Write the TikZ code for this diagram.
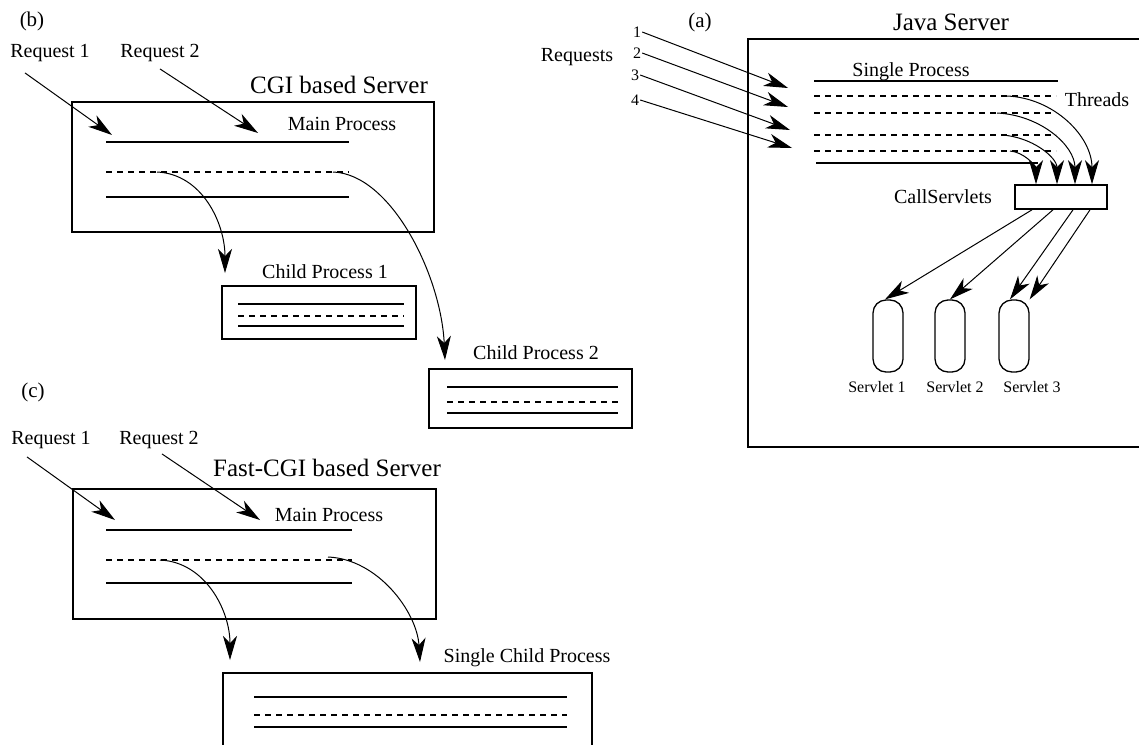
\documentclass[tikz,border=0pt]{standalone}
\usepackage{fontspec}
\setmainfont{Liberation Serif}
\usetikzlibrary{arrows.meta,positioning}

\tikzset{
    box/.style={draw, line width=1.6pt, inner sep=0pt},
    servlet/.style={draw, line width=1.3pt, rounded corners=13pt, minimum width=30pt, minimum height=72pt},
    lettertext/.style={font=\fontsize{21}{24}\selectfont, inner sep=1pt},
    smalltext/.style={font=\fontsize{20}{22}\selectfont, inner sep=1pt},
    titletext/.style={font=\fontsize{25}{28}\selectfont, inner sep=1pt},
    servtext/.style={font=\fontsize{16}{18}\selectfont, inner sep=1pt},
    pline/.style={line width=1.5pt},
    dline/.style={line width=1.5pt, dash pattern=on 6pt off 5pt},
    conn/.style={-{Stealth[length=24pt,width=14pt,inset=7pt]}, line width=1pt},
}

\begin{document}
\begin{tikzpicture}[x=1pt, y=-1pt]
    \useasboundingbox (0,0) rectangle (1139,744);
    \clip (0,0) rectangle (1139,744);

    \node[lettertext] (labb) at (32,21) {(b)};
    \node[smalltext] (rqb1) at (50,53) {Request 1};
    \node[smalltext] (rqb2) at (160,53) {Request 2};
    \node[titletext] (cgititle) at (339,85) {CGI based Server};
    \node[box, minimum width=362pt, minimum height=130pt] (cgi) at (253,167) {};
    \node[smalltext] (cgimain) at (342,124) {Main Process};
    \draw[pline] (106,142) -- (349,142);
    \draw[dline] (106,172) -- (349,172);
    \draw[pline] (106,197) -- (349,197);
    \node[smalltext] (child1lbl) at (325,272) {Child Process 1};
    \node[box, minimum width=194pt, minimum height=53pt] (child1) at (319,312.5) {};
    \draw[pline] (238,304) -- (404,304);
    \draw[dline] (238,316) -- (404,316);
    \draw[pline] (238,326) -- (404,326);
    \node[smalltext] (child2lbl) at (536,353) {Child Process 2};
    \node[box, minimum width=203pt, minimum height=59pt] (child2) at (530.5,398.5) {};
    \draw[pline] (447,387) -- (618,387);
    \draw[dline] (447,402) -- (618,402);
    \draw[pline] (447,413) -- (618,413);
    \coordinate (cgitip1) at (112,135);
    \coordinate (cgitip2) at (258,133);
    \coordinate (cgifork1) at (157,172);
    \coordinate (cgifork2) at (333,172);
    \coordinate (cgidown1) at (225,273);
    \coordinate (cgidown2) at (445,360);
    \draw[conn] ([xshift=-25pt,yshift=-10pt]rqb1.south) -- (cgitip1);
    \draw[conn] ([yshift=-6pt]rqb2.south) -- (cgitip2);
    \draw[conn] (cgifork1) .. controls +(45,2) and +(0,-50) .. (cgidown1);
    \draw[conn] (cgifork2) .. controls +(58,2) and +(-4,-85) .. (cgidown2);

    \node[lettertext] (labc) at (33,392) {(c)};
    \node[smalltext] (rqc1) at (51,440) {Request 1};
    \node[smalltext] (rqc2) at (159,440) {Request 2};
    \node[titletext] (fasttitle) at (327,468) {Fast-CGI based Server};
    \node[box, minimum width=363pt, minimum height=130pt] (fast) at (254.5,554) {};
    \node[smalltext] (fastmain) at (329,515) {Main Process};
    \draw[pline] (106,530) -- (352,530);
    \draw[dline] (106,560) -- (352,560);
    \draw[pline] (106,583) -- (352,583);
    \node[smalltext] (singlelbl) at (527,658) {Single Child Process};
    \node[box, minimum width=369pt, minimum height=117pt] (singlechild) at (407.5,731.5) {};
    \draw[pline] (254,697) -- (567,697);
    \draw[dline] (254,715) -- (567,715);
    \draw[pline] (254,727) -- (567,727);
    \coordinate (fasttip1) at (115,520);
    \coordinate (fasttip2) at (260,520);
    \coordinate (fastfork1) at (160,560);
    \coordinate (fastfork2) at (328,557);
    \coordinate (fastdown1) at (230,660);
    \coordinate (fastdown2) at (420,662);
    \draw[conn] ([xshift=-24pt,yshift=-7pt]rqc1.south) -- (fasttip1);
    \draw[conn] ([xshift=3pt,yshift=-4pt]rqc2.south) -- (fasttip2);
    \draw[conn] (fastfork1) .. controls +(45,2) and +(0,-50) .. (fastdown1);
    \draw[conn] (fastfork2) .. controls +(50,2) and +(-3,-50) .. (fastdown2);

    \node[lettertext] (laba) at (700,22) {(a)};
    \node[titletext] (javatitle) at (951,22) {Java Server};
    \node[box, minimum width=402pt, minimum height=408pt] (java) at (949,243) {};
    \node[smalltext] (reqs) at (577,57) {Requests};
    \node[servtext] (n1) at (637,32) {1};
    \node[servtext] (n2) at (637,53) {2};
    \node[servtext] (n3) at (635,75) {3};
    \node[servtext] (n4) at (635,100) {4};
    \coordinate (rt1) at (788,88);
    \coordinate (rt2) at (788,107);
    \coordinate (rt3) at (790,130);
    \coordinate (rt4) at (792,148);
    \draw[conn] (n1.east) -- (rt1);
    \draw[conn] (n2.east) -- (rt2);
    \draw[conn] (n3.east) -- (rt3);
    \draw[conn] (n4.east) -- (rt4);
    \node[smalltext] (singleproc) at (911,72) {Single Process};
    \draw[pline] (814,81) -- (1058,81);
    \draw[dline] (814,96) -- (1056,96);
    \draw[dline] (814,113) -- (1056,113);
    \draw[dline] (814,135) -- (1056,135);
    \draw[dline] (814,151) -- (1056,151);
    \draw[pline] (816,163) -- (1038,163);
    \node[smalltext] (threads) at (1097,100) {Threads};
    \node[smalltext] (calllbl) at (943,197) {CallServlets};
    \node[box, minimum width=92pt, minimum height=24pt] (call) at (1061,197) {};
    \coordinate (th1) at (1007,96);
    \coordinate (th2) at (997,113);
    \coordinate (th3) at (1002,135);
    \coordinate (th4) at (1010,151);
    \draw[conn] (th1) .. controls +(47,2) and +(0,-48) .. ([xshift=31pt]call.north);
    \draw[conn] (th2) .. controls +(43,2) and +(0,-39) .. ([xshift=14pt]call.north);
    \draw[conn] (th3) .. controls +(30,2) and +(0,-27) .. ([xshift=-4pt]call.north);
    \draw[conn] (th4) .. controls +(14,1) and +(0,-18) .. ([xshift=-25pt]call.north);
    \node[servlet] (sv1) at (888,336) {};
    \node[servlet] (sv2) at (950,336) {};
    \node[servlet] (sv3) at (1014,336) {};
    \node[servtext] (sv1lbl) at (877,387) {Servlet 1};
    \node[servtext] (sv2lbl) at (955,387) {Servlet 2};
    \node[servtext] (sv3lbl) at (1032,387) {Servlet 3};
    \draw[conn] ([xshift=-29pt]call.south) -- ([xshift=-3pt]sv1.north);
    \draw[conn] ([xshift=-8pt]call.south) -- (sv2.north);
    \draw[conn] ([xshift=12pt]call.south) -- ([xshift=-4pt]sv3.north);
    \draw[conn] ([xshift=29pt]call.south) -- (sv3.north east);
\end{tikzpicture}
\end{document}
